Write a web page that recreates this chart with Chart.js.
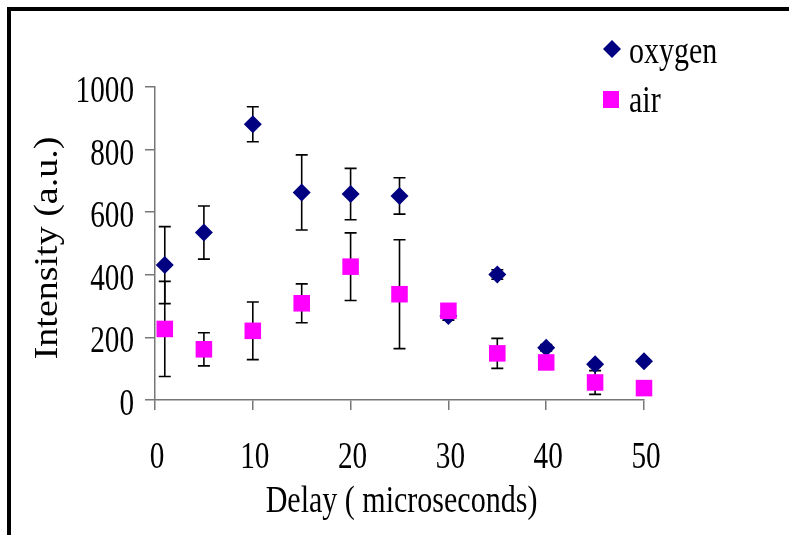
<!DOCTYPE html>
<html>
<head>
<meta charset="utf-8">
<title>Intensity vs delay</title>
<script src="https://cdn.jsdelivr.net/npm/chart.js@4.4.1/dist/chart.umd.min.js"></script>
<style>
  html, body { margin: 0; padding: 0; background: #fff; }
  canvas { display: block; }
</style>
</head>
<body>
<canvas id="chart" width="789" height="535"></canvas>
<script>
// Measured emission intensity against gate delay, with symmetric error bars
const delays     = [1, 5, 10, 15, 20, 25, 30, 35, 40, 45, 50];
const oxygen     = [431, 535, 881, 663, 658, 652, 268, 401, 167, 114, 124];
const oxygenErr  = [123, 85, 56, 120, 82, 58, 13, 15, 10, 8, 8];
const air        = [227, 162, 221, 309, 426, 338, 285, 149, 120, 56, 38];
const airErr     = [152, 53, 92, 62, 108, 174, 15, 48, 10, 38, 8];
const xTicks     = [0, 10, 20, 30, 40, 50];
const yTicks     = [0, 200, 400, 600, 800, 1000];
const seriesNames = ['oxygen', 'air'];
const xTitle = 'Delay ( microseconds)';
const yTitle = 'Intensity (a.u.)';

const NAVY = '#000080';
const MAGENTA = '#FF00FF';
const AXIS = '#777777';
const FONT = '"Liberation Serif", "Times New Roman", serif';
const SQUEEZE = 0.79;   // horizontal compression of the lettering

function toPoints(values) {
  return delays.map((d, i) => ({ x: d, y: values[i] }));
}

// narrow serif text; the page is compressed horizontally, so rotated text
// keeps its length and loses glyph height instead
function condensedText(ctx, text, x, y, size, align, rotated) {
  ctx.save();
  ctx.translate(x, y);
  if (rotated) {
    ctx.rotate(-Math.PI / 2);
    ctx.scale(1, 0.88);
  } else {
    ctx.scale(SQUEEZE, 1);
  }
  ctx.font = size + 'px ' + FONT;
  ctx.fillStyle = '#000';
  ctx.textAlign = align;
  ctx.textBaseline = 'alphabetic';
  ctx.fillText(text, 0, 0);
  ctx.restore();
}

const pageBackground = {
  id: 'pageBackground',
  beforeDraw(chart) {
    const ctx = chart.ctx;
    ctx.save();
    ctx.fillStyle = '#fff';
    ctx.fillRect(0, 0, chart.width, chart.height);
    // outer frame, open to the right and bottom
    ctx.fillStyle = '#000';
    ctx.fillRect(7, 7, chart.width, 4);
    ctx.fillRect(7, 7, 4, chart.height);
    ctx.restore();
  }
};

const errorBars = {
  id: 'errorBars',
  beforeDatasetsDraw(chart) {
    const { ctx, scales: { x, y } } = chart;
    ctx.save();
    ctx.strokeStyle = '#000';
    ctx.lineWidth = 1.6;
    chart.data.datasets.forEach(ds => {
      ds.data.forEach((p, i) => {
        const e = ds.errors[i];
        if (!e) return;
        const px = x.getPixelForValue(p.x);
        const top = y.getPixelForValue(p.y + e);
        const bot = y.getPixelForValue(p.y - e);
        ctx.beginPath();
        ctx.moveTo(px, top); ctx.lineTo(px, bot);
        ctx.moveTo(px - 6, top); ctx.lineTo(px + 6, top);
        ctx.moveTo(px - 6, bot); ctx.lineTo(px + 6, bot);
        ctx.stroke();
      });
    });
    ctx.restore();
  }
};

const axisLettering = {
  id: 'axisLettering',
  afterDraw(chart) {
    const { ctx, scales: { x, y }, chartArea } = chart;
    yTicks.forEach(v => {
      condensedText(ctx, String(v), 134, y.getPixelForValue(v) + 15, 37, 'right');
    });
    xTicks.forEach(v => {
      condensedText(ctx, String(v), x.getPixelForValue(v) + 2, 468, 37, 'center');
    });
    condensedText(ctx, xTitle, (chartArea.left + chartArea.right) / 2 + 2, 512, 38, 'center');
    condensedText(ctx, yTitle, 57, 248, 38, 'center', true);

    // legend
    ctx.save();
    ctx.fillStyle = NAVY;
    ctx.beginPath();
    ctx.moveTo(612, 40); ctx.lineTo(621, 49); ctx.lineTo(612, 58); ctx.lineTo(603, 49);
    ctx.closePath();
    ctx.fill();
    ctx.fillStyle = MAGENTA;
    ctx.fillRect(603, 91, 16, 17);
    ctx.restore();
    condensedText(ctx, seriesNames[0], 629, 63, 38, 'left');
    condensedText(ctx, seriesNames[1], 629, 112, 38, 'left');
  }
};

function axisOptions(min, max, step, ticksList) {
  return {
    type: 'linear',
    min: min,
    max: max,
    afterBuildTicks(scale) { scale.ticks = ticksList.map(v => ({ value: v })); },
    ticks: { display: false, stepSize: step },
    grid: {
      display: true,
      drawOnChartArea: false,
      drawTicks: true,
      tickLength: 10,
      color: AXIS,
      lineWidth: 1.5
    },
    border: { display: true, color: AXIS, width: 1.5 }
  };
}

function build() {
  new Chart(document.getElementById('chart'), {
    type: 'scatter',
    data: {
      datasets: [
        {
          label: seriesNames[0],
          data: toPoints(oxygen),
          errors: oxygenErr,
          pointStyle: 'rectRot',
          pointRadius: 9,
          pointHoverRadius: 9,
          backgroundColor: NAVY,
          borderColor: NAVY,
          borderWidth: 0,
          clip: false,
          order: 2
        },
        {
          label: seriesNames[1],
          data: toPoints(air),
          errors: airErr,
          pointStyle: 'rect',
          pointRadius: 11.7,
          pointHoverRadius: 11.7,
          backgroundColor: MAGENTA,
          borderColor: MAGENTA,
          borderWidth: 0,
          clip: false,
          order: 1
        }
      ]
    },
    options: {
      responsive: false,
      animation: false,
      events: [],
      layout: { padding: { left: 145, right: 145, top: 87, bottom: 125 } },
      plugins: {
        legend: { display: false },
        tooltip: { enabled: false },
        title: { display: false }
      },
      scales: {
        x: axisOptions(0, 50, 10, xTicks),
        y: axisOptions(0, 1000, 200, yTicks)
      }
    },
    plugins: [pageBackground, errorBars, axisLettering]
  });
}

if (document.fonts && document.fonts.load) {
  document.fonts.load('38px "Liberation Serif"').then(build, build);
} else {
  build();
}
</script>
</body>
</html>
